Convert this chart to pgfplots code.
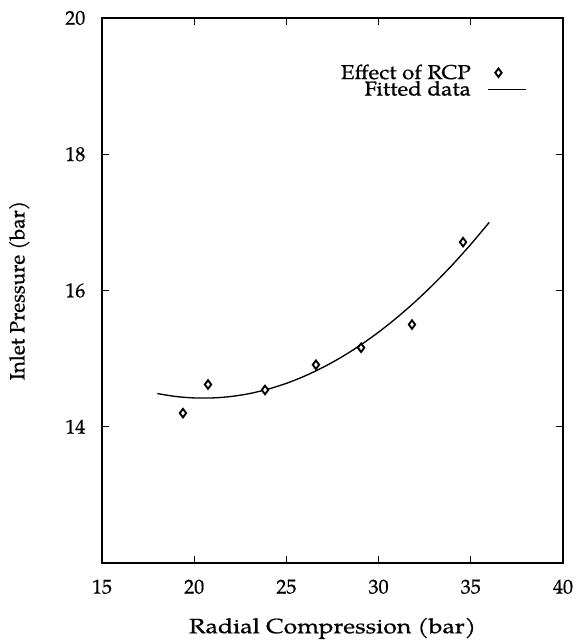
\documentclass[border=0pt]{standalone}
\usepackage{fontspec}
\setmainfont{TeX Gyre Pagella}[FakeBold=0.6]
\usepackage{graphicx}
\usepackage{pgfplots}
\pgfplotsset{compat=1.18}
\pgfplotsset{
  legmark/.style={legend image code/.code={\path (0pt,0pt) (39pt,0pt); \draw[##1] plot coordinates {(18pt,0pt)};}},
  legline/.style={legend image code/.code={\path (0pt,0pt) (39pt,0pt); \draw[##1] (10pt,0pt) -- (39pt,0pt);}},
}
\begin{document}
\begin{tikzpicture}
\begin{axis}[
  name=ax,
  scale only axis,
  width=345.75pt, height=408.75pt,
  xmin=15, xmax=40, ymin=12, ymax=20,
  xtick={15,20,25,30,35,40},
  ytick={14,16,18,20},
  tick align=inside,
  major tick length=5pt,
  tick style={line width=0.8pt, black},
  axis line style={line width=1pt},
  /pgf/number format/assume math mode=true,
  ticklabel style={font=\fontsize{15}{17}\selectfont},
  xticklabel style={yshift=-9pt},
  yticklabel style={xshift=-9pt},
  label style={font=\fontsize{15.5}{18}\selectfont},
  xlabel={\scalebox{1.2}[1]{Radial Compression (bar)}},
  ylabel={Inlet Pressure (bar)},
  xlabel style={yshift=-11pt},
  ylabel style={yshift=20pt},
  legend style={draw=none, fill=none, font=\fontsize{15}{17}\selectfont,
    at={(0.932,0.925)}, anchor=north east, row sep=-4pt},
  legend cell align=right,
  legend plot pos=right,
]
\addplot[only marks, mark=diamond*, mark size=3.2pt, line width=1.4pt,
  mark options={fill=white, draw=black}, legmark]
coordinates {
(19.39,14.20) (20.75,14.62) (23.84,14.54) (26.60,14.91) (29.05,15.16) (31.81,15.50) (34.58,16.71)
};
\addlegendentry{\scalebox{1.12}[1]{Effect of RCP}}
\addplot[black, line width=1pt, no marks, smooth, legline] coordinates {
(18,14.487) (19,14.444) (20,14.423) (21,14.423) (22,14.444) (23,14.487)
(24,14.552) (25,14.637) (26,14.745) (27,14.874) (28,15.024) (29,15.196)
(30,15.389) (31,15.604) (32,15.840) (33,16.098) (34,16.377) (35,16.678) (36,17.000)
};
\addlegendentry{\scalebox{1.12}[1]{Fitted data}}
\end{axis}
\pgfresetboundingbox
\path ([shift={(-76.5pt,-59.25pt)}]ax.south west) rectangle ([shift={(9.75pt,13.5pt)}]ax.north east);
\end{tikzpicture}
\end{document}
